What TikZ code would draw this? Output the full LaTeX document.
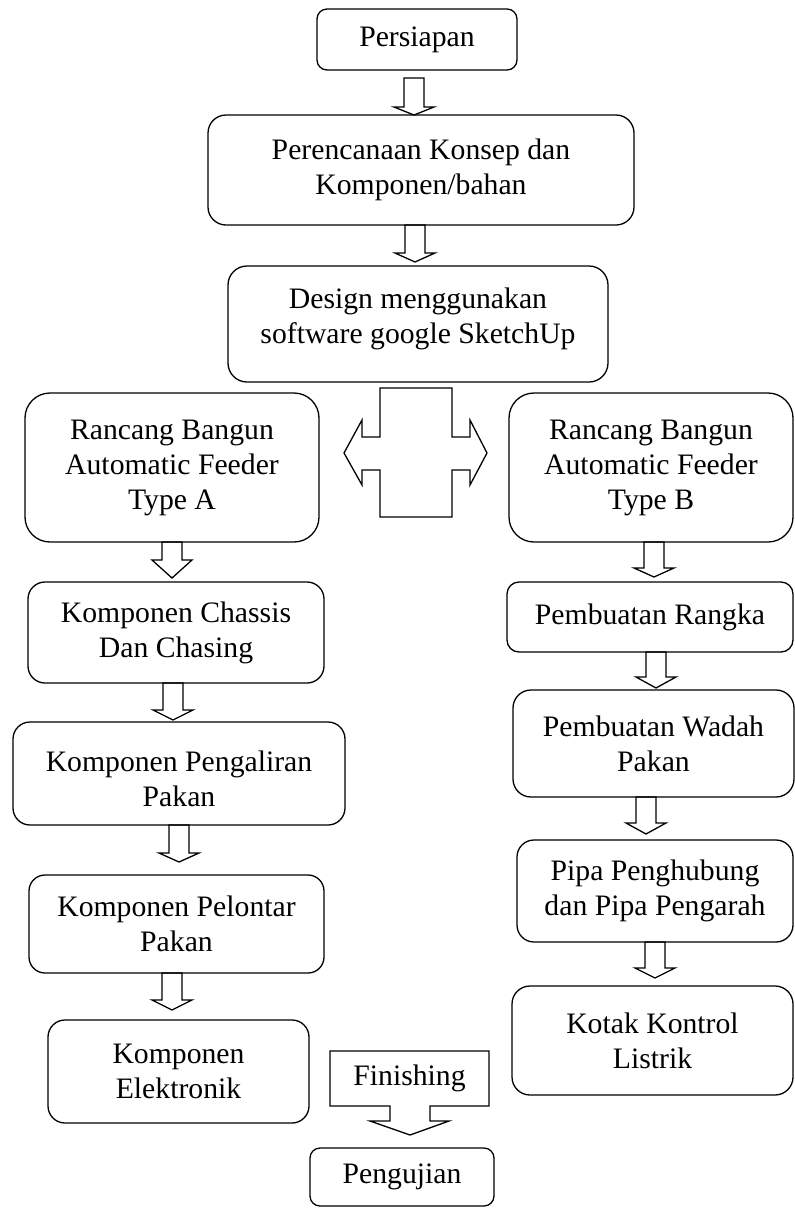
\documentclass[tikz,border=0pt]{standalone}
\usepackage{fontspec}
\setmainfont{Liberation Serif}

% hollow block arrow pointing down: #1 x of axis, #2 top of shaft,
% #3 base of head, #4 tip
\newcommand\fatdown[4]{%
  \draw[outline] (#1-10,#2) -- (#1-10,#3) -- (#1-20,#3) -- (#1,#4)
    -- (#1+20,#3) -- (#1+10,#3) -- (#1+10,#2) -- cycle;}

\begin{document}
\begin{tikzpicture}[x=1pt,y=-1pt,
  txt/.style={align=center, inner sep=0pt, font=\fontsize{29.7}{35}\selectfont},
  box/.style={draw, line width=1.3pt, rounded corners=#1, txt},
  outline/.style={draw, line width=1.3pt, line join=miter}]
\useasboundingbox (0,0) rectangle (795,1208);

% central column
\node[box=10pt, minimum width=200pt, minimum height=61pt]  (persiapan)   at (417,39.5) {Persiapan};
\node[box=18pt, minimum width=426pt, minimum height=110pt] (perencanaan) at (421,170)  {Perencanaan Konsep dan\\Komponen/bahan};
\node[box=19pt, minimum width=380pt, minimum height=116pt] (design)      at (418,324)  {};
\node[txt] (designtxt) at (418,318.5) {Design menggunakan\\software google SketchUp};

% type A column
\node[box=25pt, minimum width=294pt, minimum height=149pt] (rancangA)   at (172,467.5) {Rancang Bangun\\Automatic Feeder\\Type A};
\node[box=17pt, minimum width=296pt, minimum height=101pt] (chassis)    at (176,632.5) {Komponen Chassis\\Dan Chasing};
\node[box=17pt, minimum width=332pt, minimum height=103pt] (pengaliran) at (179,773.5) {};
\node[txt] (pengalirantxt) at (179,778.5) {Komponen Pengaliran\\Pakan};
\node[box=16pt, minimum width=295pt, minimum height=98pt]  (pelontar)   at (176.5,924) {Komponen Pelontar\\Pakan};
\node[box=17pt, minimum width=261pt, minimum height=103pt] (elektronik) at (178.5,1071.5) {Komponen\\Elektronik};

% type B column
\node[box=25pt, minimum width=284pt, minimum height=149pt] (rancangB) at (651,467.5)  {Rancang Bangun\\Automatic Feeder\\Type B};
\node[box=12pt, minimum width=286pt, minimum height=70pt]  (rangka)   at (650,617)    {Pembuatan Rangka};
\node[box=18pt, minimum width=281pt, minimum height=107pt] (wadah)    at (653.5,743.5) {Pembuatan Wadah\\Pakan};
\node[box=17pt, minimum width=276pt, minimum height=102pt] (pipa)     at (655,891)    {Pipa Penghubung\\dan Pipa Pengarah};
\node[box=18pt, minimum width=281pt, minimum height=109pt] (kotak)    at (652.5,1040.5) {Kotak Kontrol\\Listrik};

% final steps
\node[box=10pt, minimum width=184pt, minimum height=58pt] (pengujian) at (402,1177) {Pengujian};
\node[txt] (finishing) at (409.5,1078.5) {Finishing};

% hollow arrows between steps
\fatdown{414}{78}{107}{115}
\fatdown{415}{225}{253}{262}
\fatdown{172}{542}{560}{578}
\fatdown{173}{683}{710}{720}
\fatdown{179}{825}{853}{862}
\fatdown{172}{973}{1000}{1010}
\fatdown{654}{542}{568}{577}
\fatdown{656}{652}{677}{688}
\fatdown{646}{797}{823}{834}
\fatdown{655}{942}{968}{978}

% branching cross with a double arrow to both types
\draw[outline] (380,388) -- (452,388) -- (452,437) -- (470,437) -- (470,420)
  -- (487,453) -- (470,485) -- (470,470) -- (452,470) -- (452,517)
  -- (380,517) -- (380,470) -- (362,470) -- (362,485) -- (344,453)
  -- (362,420) -- (362,437) -- (380,437) -- cycle;

% finishing callout pointing to the test step
\draw[outline] (330,1051) -- (489,1051) -- (489,1106) -- (430,1106)
  -- (430,1121) -- (449,1121) -- (410,1135) -- (370,1121) -- (390,1121)
  -- (390,1106) -- (330,1106) -- cycle;
\end{tikzpicture}
\end{document}
